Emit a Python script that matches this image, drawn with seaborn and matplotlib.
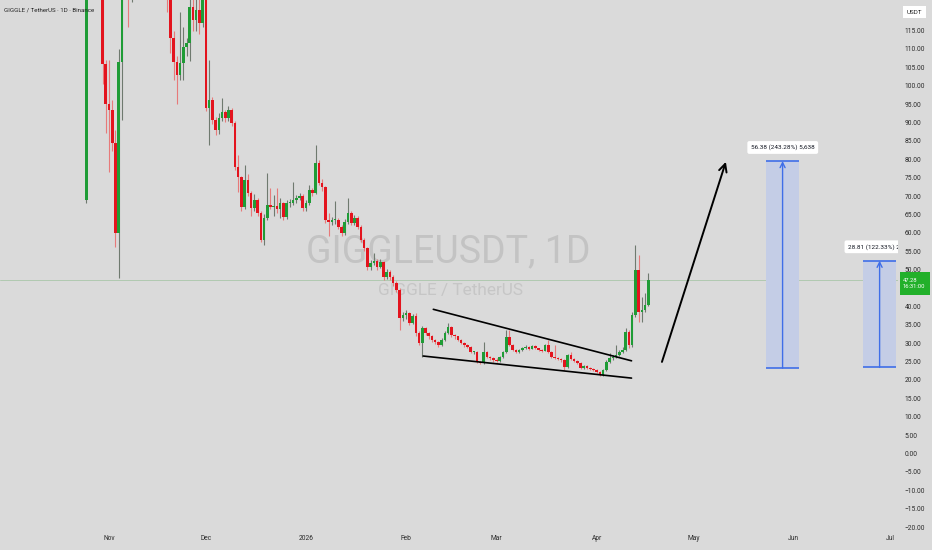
import numpy as np
import pandas as pd
import matplotlib
matplotlib.use("Agg")
import matplotlib.pyplot as plt
import matplotlib.dates as mdates
from matplotlib.patches import Rectangle
import seaborn as sns

# daily candles, GIGGLE/USDT
first_day = "2025-10-25"
first_open = 69.0

oct_close = [135, 150, 160, 148, 140, 105.8, 95.1]
oct_high = [140, 160, 170, 165, 152, 145, 107]
oct_low = [68, 130, 140, 135, 128, 100.5, 87.1]

nov_close = [93.4, 84.4, 60.0, 106.5, 135, 150, 140, 145, 152, 160,
             168, 162, 155, 150, 156, 148, 142, 135, 128, 113,
             106.5, 102.9, 106.2, 110.5, 111.6, 121.4, 117.9, 120.6, 117.0, 128]
nov_high = [107, 96, 88, 110, 140, 160, 155, 150, 158, 166,
            175, 172, 165, 158, 162, 160, 150, 145, 138, 130,
            115, 108, 120, 116, 113, 124, 126, 126, 126, 132]
nov_low = [76.5, 82.3, 56.2, 47.7, 90.7, 130, 116, 122.8, 138, 145,
           155, 152, 145, 140, 144, 138, 132, 127, 120, 109,
           101.6, 95, 101.6, 101.6, 108, 106.6, 115, 114.8, 114, 116]

dec_close = [93.9, 96.1, 90.7, 88.0, 91.2, 92.9, 91.2, 93.4, 89.9, 77.9,
             75.2, 67.0, 74.4, 70.8, 66.8, 68.9, 65.4, 58.1, 64.0, 67.6,
             67.0, 67.3, 66.5, 68.1, 64.3, 68.1, 68.1, 68.9, 69.5, 70.0, 66.8]
dec_high = [128, 107, 97.0, 91.5, 92.5, 96.7, 93.5, 94.5, 94.0, 90.5,
            81.2, 75.5, 78.4, 76.0, 71.5, 70.5, 69.5, 66.0, 65.0, 76.3,
            72.2, 70.3, 72.2, 69.5, 68.5, 69.0, 69.2, 73.8, 70.3, 70.8, 70.5]
dec_low = [93.0, 84.0, 89.5, 86.5, 87.0, 90.5, 90.0, 90.5, 89.0, 77.0,
           71.1, 66.0, 66.5, 70.0, 64.5, 66.0, 64.5, 57.5, 56.7, 63.5,
           66.5, 64.5, 65.5, 64.0, 63.5, 63.8, 67.0, 67.5, 68.2, 68.8, 65.8]

jan_close = [68.1, 71.7, 70.8, 79.0, 73.6, 72.5, 63.5, 63.0, 63.5, 63.5,
             61.6, 60.0, 63.0, 65.4, 62.7, 64.0, 61.6, 58.1, 55.9, 50.7,
             51.8, 52.4, 50.7, 52.1, 48.0, 49.4, 48.0, 46.4, 44.5, 36.9, 37.7]
jan_high = [69.0, 73.0, 72.2, 83.9, 79.8, 74.5, 72.8, 65.4, 64.2, 68.7,
            64.0, 62.0, 63.8, 69.5, 65.8, 64.8, 64.5, 62.0, 58.5, 56.2,
            52.6, 54.5, 52.8, 52.8, 52.4, 50.2, 50.0, 48.5, 46.8, 45.0, 38.5]
jan_low = [66.0, 67.5, 70.0, 70.5, 73.0, 71.5, 62.8, 59.0, 62.0, 62.5,
           61.0, 59.2, 59.5, 62.5, 62.0, 62.2, 61.0, 57.5, 55.0, 50.0,
           49.8, 51.2, 50.0, 50.3, 47.3, 47.5, 47.2, 45.5, 43.8, 33.6, 36.0]

feb_close = [38.2, 35.5, 37.4, 32.8, 30.1, 34.1, 32.8, 31.9, 30.9, 30.3,
             29.5, 30.9, 32.8, 34.4, 32.2, 31.9, 30.9, 30.1, 29.5, 29.0,
             27.6, 27.6, 24.9, 24.6, 27.6, 26.2, 26.0, 25.4]
feb_high = [39.0, 38.5, 38.0, 38.2, 33.2, 34.8, 34.5, 33.0, 32.2, 31.2,
            30.5, 31.3, 33.2, 35.5, 34.6, 32.6, 32.0, 31.2, 30.3, 29.8,
            29.2, 28.0, 27.8, 25.2, 30.3, 27.9, 26.5, 26.2]
feb_low = [36.5, 35.0, 35.2, 32.0, 29.5, 26.3, 32.2, 31.2, 30.3, 29.8,
           29.0, 29.2, 30.5, 32.5, 31.8, 31.2, 30.5, 29.8, 29.0, 28.6,
           27.2, 27.0, 24.5, 24.2, 24.4, 25.9, 25.5, 25.0]

mar_close = [25.2, 26.2, 27.6, 31.7, 29.5, 28.1, 27.6, 28.1, 28.7, 29.0,
             28.4, 29.2, 28.7, 28.1, 27.9, 29.5, 27.6, 26.2, 26.0, 25.7,
             25.4, 23.5, 26.8, 25.7, 25.2, 24.6, 23.3, 23.8, 23.3, 23.0, 22.7]
mar_high = [26.0, 26.5, 28.0, 33.6, 33.6, 29.8, 28.3, 28.5, 29.0, 29.4,
            29.2, 29.6, 29.5, 28.8, 28.5, 29.8, 30.9, 27.9, 29.5, 26.3,
            26.0, 25.6, 27.0, 27.6, 26.0, 25.4, 24.8, 24.0, 24.0, 23.5, 23.2]
mar_low = [24.9, 25.0, 26.0, 27.4, 29.2, 27.8, 27.2, 27.3, 27.9, 28.5,
           28.1, 28.3, 28.4, 27.8, 27.6, 27.8, 27.3, 26.0, 25.7, 25.4,
           25.0, 22.7, 23.3, 25.4, 24.9, 24.3, 23.0, 23.1, 23.0, 22.8, 22.4]

apr_close = [22.2, 21.4, 22.7, 24.9, 25.9, 26.2, 26.8, 27.6, 28.1, 33.0,
             29.5, 37.7, 49.9, 38.5, 39.0, 40.4, 47.28]
apr_high = [22.9, 22.4, 23.0, 25.3, 27.3, 26.8, 29.5, 28.2, 28.9, 34.0,
            33.5, 38.5, 56.7, 54.0, 42.6, 43.7, 49.1]
apr_low = [21.9, 21.1, 21.2, 22.5, 24.6, 25.4, 25.9, 26.5, 27.2, 27.9,
           28.8, 29.0, 37.0, 35.8, 35.8, 38.5, 40.0]

last_price = 47.28
last_time = "16:31:00"

month_ticks = ["2025-11-01", "2025-12-01", "2026-01-01", "2026-02-01", "2026-03-01",
               "2026-04-01", "2026-05-01", "2026-06-01", "2026-07-01"]
month_labels = ["Nov", "Dec", "2026", "Feb", "Mar", "Apr", "May", "Jun", "Jul"]
# 45.00 sits under the live price label, so it is not on the scale
price_ticks = [v for v in range(-20, 120, 5) if v != 45]

# drawings (date, price)
wedge_top = [("2026-02-09 10:00", 39.2), ("2026-04-11 19:00", 25.2)]
wedge_bottom = [("2026-02-06 07:00", 26.5), ("2026-04-11 19:00", 20.5)]
big_arrow = [("2026-04-21 05:00", 24.9), ("2026-05-11 00:00", 79.3)]
measure_1 = {"start": "2026-05-23 10:00", "end": "2026-06-02 17:00", "low": 23.2, "high": 79.5,
             "text": "56.38 (243.28%) 5,638"}
measure_2 = {"start": "2026-06-22 12:00", "end": "2026-07-02 17:00", "low": 23.4, "high": 52.4,
             "text": "28.81 (122.33%) 2,881"}

bg = "#dadada"
green = "#1f9c36"
red = "#e3141e"
green_wick = "#6f7a6f"
red_wick = "#e77a7a"
blue = "#3f6ee8"

sns.set_theme(style="white", rc={"axes.facecolor": bg, "figure.facecolor": bg})
plt.rcParams['font.family'] = ['Roboto', 'DejaVu Sans']


def dnum(s):
    return mdates.date2num(pd.Timestamp(s))


closes = np.array(oct_close + nov_close + dec_close + jan_close + feb_close + mar_close + apr_close)
highs = np.array(oct_high + nov_high + dec_high + jan_high + feb_high + mar_high + apr_high)
lows = np.array(oct_low + nov_low + dec_low + jan_low + feb_low + mar_low + apr_low)
opens = np.concatenate([[first_open], closes[:-1]])
x = mdates.date2num(pd.date_range(first_day, periods=len(closes), freq="D"))

fig = plt.figure(figsize=(9.32, 5.5), dpi=100)
ax = fig.add_axes([0, 20 / 550, 898 / 932, 530 / 550])

# watermark
ax.text(0.499, 0.525, "GIGGLEUSDT, 1D", transform=ax.transAxes, ha="center", va="center",
        fontsize=27, color="#c3c3c3", zorder=0)
ax.text(0.502, 0.451, "GIGGLE / TetherUS", transform=ax.transAxes, ha="center", va="center",
        fontsize=12.4, color="#c6c6c6", zorder=0)

ax.axhline(last_price, color="#a9c6a9", lw=0.6, zorder=1)

up = closes >= opens
bottom = np.minimum(opens, closes)
height = np.maximum(np.abs(closes - opens), 0.35)
ax.vlines(x[up], lows[up], highs[up], color=green_wick, lw=0.8, zorder=2)
ax.vlines(x[~up], lows[~up], highs[~up], color=red_wick, lw=0.8, zorder=2)
ax.bar(x[up], height[up], bottom=bottom[up], width=0.8, color=green, linewidth=0, zorder=3)
ax.bar(x[~up], height[~up], bottom=bottom[~up], width=0.8, color=red, linewidth=0, zorder=3)

# falling wedge
for line in (wedge_top, wedge_bottom):
    ax.plot([dnum(p[0]) for p in line], [p[1] for p in line], color="black", lw=1.2, zorder=4)

ax.annotate("", xy=(dnum(big_arrow[1][0]), big_arrow[1][1]),
            xytext=(dnum(big_arrow[0][0]), big_arrow[0][1]),
            arrowprops=dict(arrowstyle="->", color="black", lw=1.4, mutation_scale=14,
                            shrinkA=0, shrinkB=0), zorder=4)

# price range tools
for m in (measure_1, measure_2):
    x0, x1 = dnum(m["start"]), dnum(m["end"])
    ax.add_patch(Rectangle((x0, m["low"]), x1 - x0, m["high"] - m["low"],
                           facecolor="#c4cde6", edgecolor="none", zorder=2))
    ax.hlines([m["low"], m["high"]], x0, x1, color=blue, lw=1.2, zorder=3)
    xc = (x0 + x1) / 2
    ax.annotate("", xy=(xc, m["high"]), xytext=(xc, m["low"]),
                arrowprops=dict(arrowstyle="->", color=blue, lw=1.0, mutation_scale=9,
                                shrinkA=0, shrinkB=0), zorder=3)

ax.text(dnum(measure_1["start"]) + 5.2, 83.2, measure_1["text"], ha="center", va="center",
        fontsize=4.6, color="#131722", zorder=5,
        bbox=dict(boxstyle="round,pad=0.55,rounding_size=0.3", fc="white", ec="none"))
ax.text(dnum("2026-06-17 20:00"), 56.2, measure_2["text"], ha="left", va="center",
        fontsize=4.6, color="#131722", zorder=5, clip_on=True,
        bbox=dict(boxstyle="round,pad=0.55,rounding_size=0.3", fc="white", ec="none"))

ax.set_xlim(dnum("2025-11-01") - 33.75, dnum("2025-11-01") + 244.3)
ax.set_ylim(-20.8, 123.3)
ax.set_xticks([dnum(t) for t in month_ticks])
ax.set_xticklabels(month_labels)
ax.set_yticks(price_ticks)
ax.set_yticklabels([f"{v:.2f}".replace("-", "\u2212") for v in price_ticks])
ax.yaxis.tick_right()
ax.tick_params(axis="y", length=0, pad=5, labelsize=4.8, colors="#2a2a2a")
ax.tick_params(axis="x", length=0, pad=3.5, labelsize=4.8, colors="#2a2a2a")
for s in ax.spines.values():
    s.set_visible(False)

ax.text(0.005, 0.981, "GIGGLE / TetherUS \u00b7 1D \u00b7 Binance", transform=ax.transAxes,
        ha="left", va="center", fontsize=4.4, color="#222222")

# price scale extras
fig.text(914 / 932, 1 - 12 / 550, "USDT", ha="center", va="center", fontsize=4.5, color="#222222",
         bbox=dict(boxstyle="square,pad=0.6", fc="white", ec="none"))
fig.add_artist(Rectangle((900 / 932, 1 - 295 / 550), 30 / 932, 23 / 550,
                         transform=fig.transFigure, facecolor="#22b02a", edgecolor="none"))
fig.text(903 / 932, 1 - 283.5 / 550, f"{last_price:.2f}\n{last_time}", ha="left", va="center",
         fontsize=4.2, color="white", linespacing=1.45)

fig.savefig("out.png", dpi=100, facecolor=bg)
